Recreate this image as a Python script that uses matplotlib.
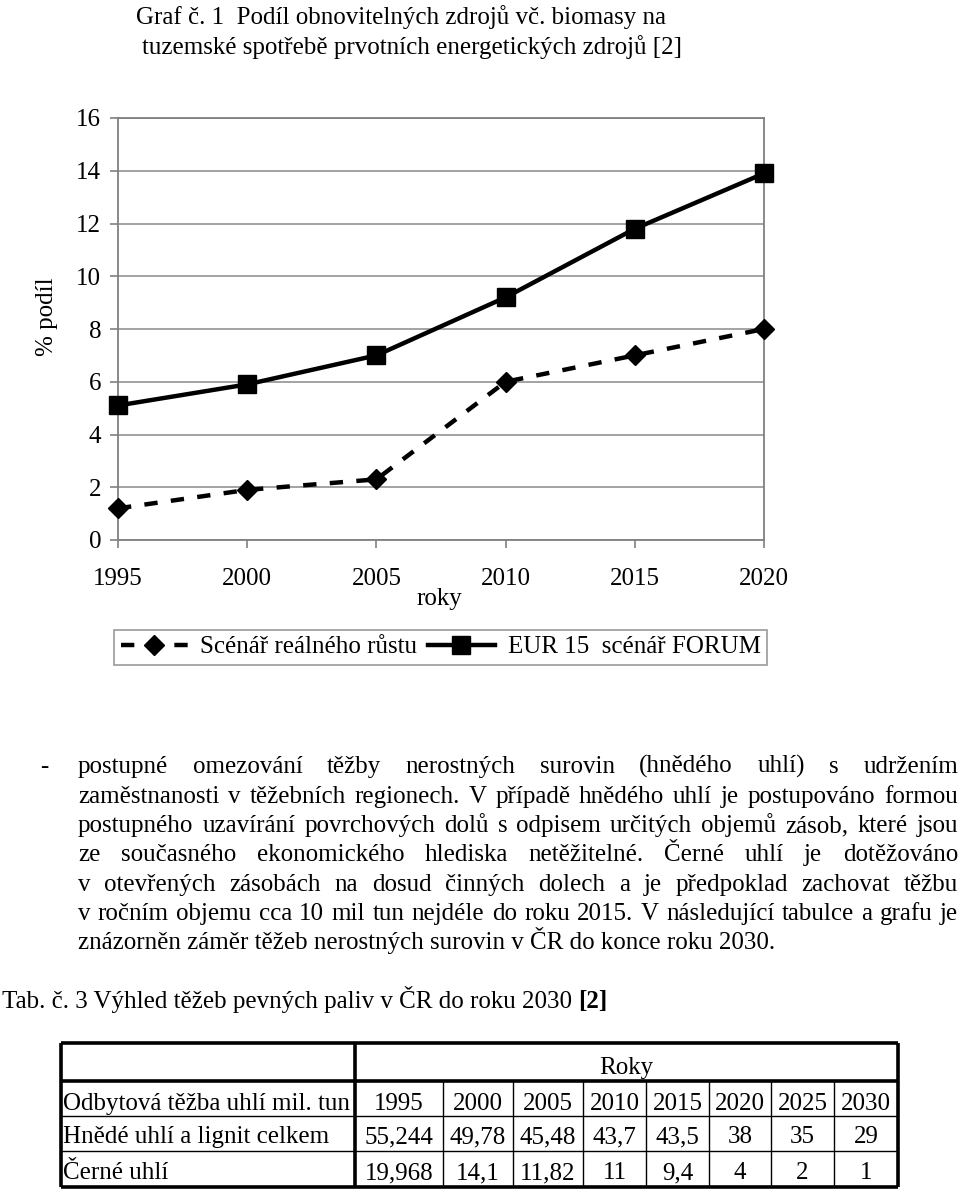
import matplotlib
matplotlib.use("Agg")
import matplotlib.pyplot as plt

plt.rcParams['font.family'] = ['Liberation Serif', 'DejaVu Serif']

# --- data ---
years = [1995, 2000, 2005, 2010, 2015, 2020]
realny_rust = [1.2, 1.9, 2.3, 6.0, 7.0, 8.0]
forum = [5.1, 5.9, 7.0, 9.2, 11.8, 13.9]

tab_header = 'Odbytová těžba uhlí mil. tun'
tab_years = ['1995', '2000', '2005', '2010', '2015', '2020', '2025', '2030']
hnede_uhli = ['55,244', '49,78', '45,48', '43,7', '43,5', '38', '35', '29']
cerne_uhli = ['19,968', '14,1', '11,82', '11', '9,4', '4', '2', '1']
tab_rows = [('Hnědé uhlí a lignit celkem', hnede_uhli), ('Černé uhlí', cerne_uhli)]

title_lines = ['Graf č. 1  Podíl obnovitelných zdrojů vč. biomasy na',
               'tuzemské spotřebě prvotních energetických zdrojů [2]']
para_lines = [
    'postupné omezování těžby nerostných surovin (hnědého uhlí) s\u00a0udržením',
    'zaměstnanosti v těžebních regionech. V případě hnědého uhlí je postupováno formou',
    'postupného uzavírání povrchových dolů s odpisem určitých objemů zásob, které jsou',
    'ze současného ekonomického hlediska netěžitelné. Černé uhlí je dotěžováno',
    'v\u00a0otevřených zásobách na dosud činných dolech a je předpoklad zachovat těžbu',
    'v ročním objemu cca 10 mil tun nejdéle do roku 2015. V následující tabulce a grafu je',
    'znázorněn záměr těžeb nerostných surovin v ČR do konce roku 2030.',
]

FS = 18
W, H = 960, 1192
fig = plt.figure(figsize=(W / 100, H / 100), dpi=100)

# page overlay in pixel coordinates
page = fig.add_axes([0, 0, 1, 1])
page.set_xlim(0, W)
page.set_ylim(H, 0)
page.axis('off')
renderer = fig.canvas.get_renderer()

# title
page.text(401, 24, title_lines[0], fontsize=FS, ha='center', va='baseline')
page.text(412, 54, title_lines[1], fontsize=FS, ha='center', va='baseline')

# --- chart ---
ax = fig.add_axes([118 / W, 1 - 540 / H, (764 - 118) / W, (540 - 118) / H])
ax.plot(years, realny_rust, color='black', lw=3.2, ls=(0, (3, 3)), marker='D',
        ms=10, clip_on=False, zorder=3, label='Scénář reálného růstu')
ax.plot(years, forum, color='black', lw=3.2, marker='s', ms=12.5,
        clip_on=False, zorder=3, label='EUR 15  scénář FORUM')
ax.set_xlim(1995, 2020)
ax.set_ylim(0, 16)
ax.set_xticks(years)
ax.set_yticks(range(0, 17, 2))
ax.grid(axis='y', color='#8a8a8a', lw=1.1)
ax.set_axisbelow(True)
for s in ax.spines.values():
    s.set_color('#808080')
    s.set_linewidth(1.3)
ax.tick_params(axis='both', colors='#808080', labelcolor='black',
               labelsize=FS, length=6, width=1.2)
ax.tick_params(axis='x', pad=14)
ax.tick_params(axis='y', pad=6)
ax.set_ylabel('% podíl', fontsize=FS)
ax.yaxis.set_label_coords(-0.093, 0.53)
ax.set_xlabel('roky', fontsize=FS)
ax.xaxis.set_label_coords(0.498, -0.113)

leg = fig.legend(loc='center', bbox_to_anchor=(440.5 / W, 1 - 647 / H), ncol=2,
                 fontsize=FS, frameon=True, fancybox=False, edgecolor='#808080',
                 handlelength=2.7, handletextpad=0.5, columnspacing=0.4,
                 borderpad=0.25, borderaxespad=0)
leg.get_frame().set_linewidth(1.2)

# --- paragraph (justified) ---
x0, x1 = 78, 958
base = [773, 803, 832, 861, 891, 920, 949]
page.text(40, base[0], '-', fontsize=FS, va='baseline')
for i, line in enumerate(para_lines):
    if i == len(para_lines) - 1:
        page.text(x0, base[i], line, fontsize=FS, va='baseline')
        continue
    words = line.split()
    ts = [page.text(0, base[i], w, fontsize=FS, va='baseline') for w in words]
    widths = [t.get_window_extent(renderer).width for t in ts]
    gap = (x1 - x0 - sum(widths)) / (len(words) - 1)
    x = x0
    for t, w in zip(ts, widths):
        t.set_x(x)
        x += w + gap

# --- table caption ---
cap = page.text(2, 1008, 'Tab. č. 3 Výhled těžeb pevných paliv v ČR do roku 2030 ',
                fontsize=FS, va='baseline')
cw = cap.get_window_extent(renderer).width
page.text(2 + cw, 1008, '[2]', fontsize=FS, fontweight='bold', va='baseline')

# --- table ---
col_edges = [61, 355, 443, 513, 583, 646, 709, 771, 834, 898]
row_edges = [1043, 1081, 1116, 1151, 1187]
thick, thin = 2.6, 1.0
page.hlines([row_edges[0], row_edges[1], row_edges[-1]], col_edges[0], col_edges[-1],
            color='black', lw=thick)
page.hlines(row_edges[2:4], col_edges[0], col_edges[-1], color='black', lw=thin)
page.vlines([col_edges[0], col_edges[1], col_edges[-1]], row_edges[0], row_edges[-1],
            color='black', lw=thick)
page.vlines(col_edges[2:-1], row_edges[1], row_edges[-1], color='black', lw=thin)

page.text((col_edges[1] + col_edges[-1]) / 2, row_edges[1] - 7, 'Roky',
          fontsize=FS, ha='center', va='baseline')
page.text(col_edges[0] + 2, row_edges[2] - 6, tab_header, fontsize=FS, va='baseline')
for j, yr in enumerate(tab_years):
    cx = (col_edges[j + 1] + col_edges[j + 2]) / 2
    page.text(cx, row_edges[2] - 6, yr, fontsize=FS, ha='center', va='baseline')
for r, (name, vals) in enumerate(tab_rows):
    yb = row_edges[r + 3] - 8
    page.text(col_edges[0] + 2, yb, name, fontsize=FS, va='baseline')
    for j, v in enumerate(vals):
        cx = (col_edges[j + 1] + col_edges[j + 2]) / 2
        page.text(cx, yb, v, fontsize=FS, ha='center', va='baseline')

fig.savefig('out.png', dpi=100)
